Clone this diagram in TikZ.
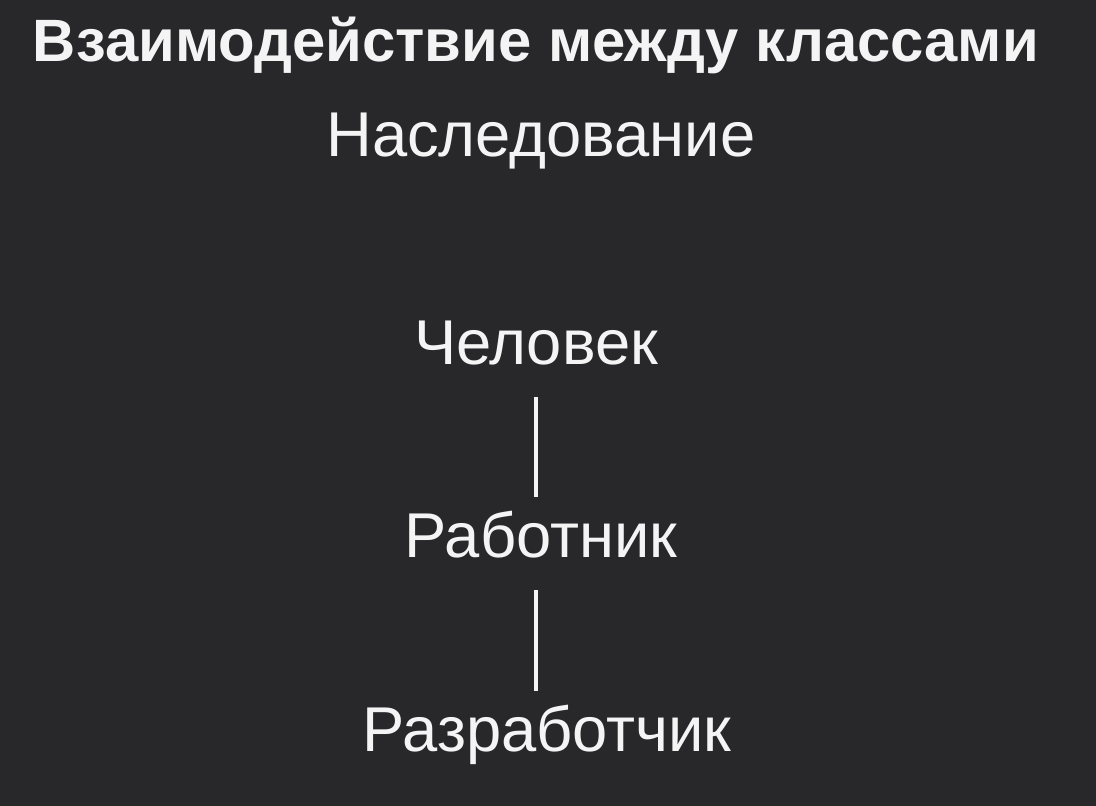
\documentclass[tikz,border=0pt]{standalone}
\usepackage{fontspec}
\setmainfont{Liberation Sans}
\definecolor{fon}{HTML}{28282B}
\definecolor{tekst}{HTML}{F4F4F4}

\begin{document}
\begin{tikzpicture}[x=0.01cm,y=-0.01cm,
  klass/.style={text=tekst,font=\fontsize{18pt}{21pt}\selectfont,inner sep=0pt,
    text height=12.9pt,text depth=0pt,anchor=south},
  svyaz/.style={draw=tekst,line width=1.1pt,shorten <=3.2mm,shorten >=1.4mm}]
  % фон
  \fill[fon] (0,0) rectangle (1096,806);
  \useasboundingbox (0,0) rectangle (1096,806);
  % заголовок
  \node[klass,font=\bfseries\fontsize{17pt}{20pt}\selectfont] (zag) at (536,62){Взаимодействие между классами};
  \node[klass] (nasl) at (541,157){Наследование};
  % иерархия классов
  \node[klass] (chel) at (536,365){Человек};
  \node[klass] (rab) at (541,558){Работник};
  \node[klass] (razr) at (547,752){Разработчик};
  \draw[svyaz] (chel.south) -- (chel.south |- rab.north);
  \draw[svyaz] (chel.south |- rab.south) -- (chel.south |- razr.north);
\end{tikzpicture}
\end{document}
